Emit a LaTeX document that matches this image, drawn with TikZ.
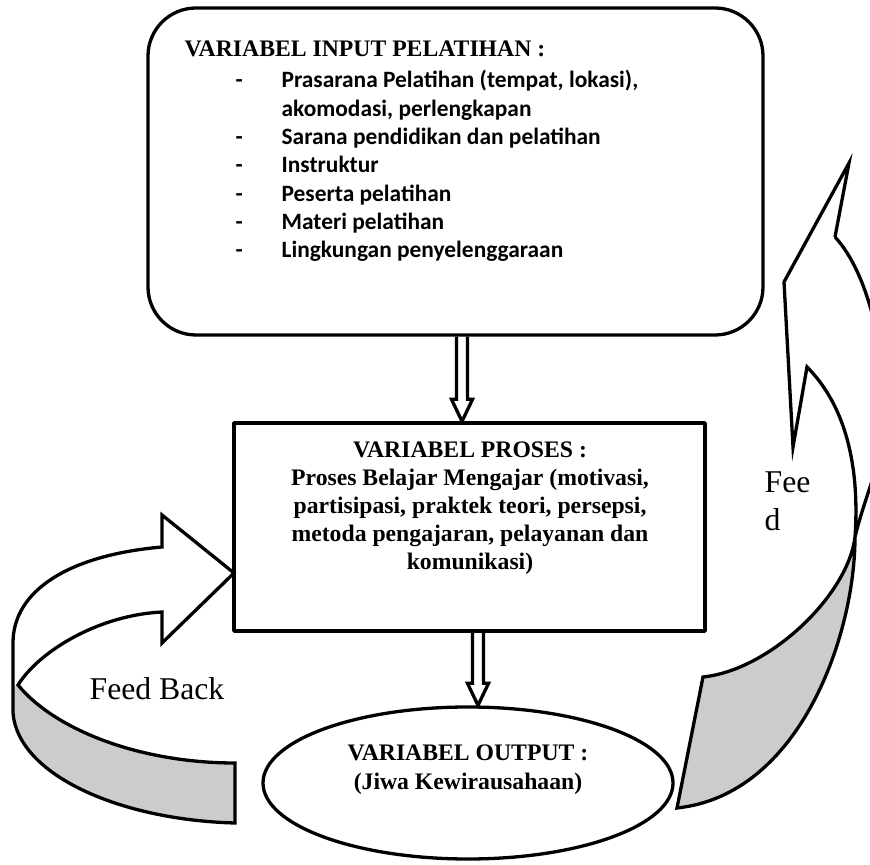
\documentclass[tikz,border=0pt]{standalone}
\usepackage{fontspec}
\setmainfont{Liberation Serif}
\newfontfamily\calibrifont{Carlito}
\usetikzlibrary{shapes.geometric,calc}
\definecolor{bandgray}{RGB}{204,204,204}

% hollow double-line arrow pointing down, from #1 to #2
\newcommand{\hollowdown}[2]{%
  \draw [line join=miter] ($(#1)+(-5.5bp,0)$) -- ($(#2)+(-5.5bp,22bp)$) -- ($(#2)+(-10.5bp,22bp)$) -- (#2)
    -- ($(#2)+(10.5bp,22bp)$) -- ($(#2)+(5.5bp,22bp)$) -- ($(#1)+(5.5bp,0)$);}

\begin{document}
\begin{tikzpicture}[line join=bevel,
  box/.style={draw, line width=3.3bp, inner sep=0pt},
  inputbox/.style={box, rounded corners=48bp, minimum width=615bp, minimum height=327bp},
  prosesbox/.style={box, minimum width=471bp, minimum height=208bp},
  outputshape/.style={box, ellipse, minimum width=410bp, minimum height=152bp},
  headtext/.style={font=\bfseries\fontsize{23.7bp}{28bp}\selectfont, inner sep=0pt, anchor=base},
  itemtext/.style={font=\calibrifont\bfseries\fontsize{23.4bp}{28bp}\selectfont, inner sep=0pt, anchor=base west},
  feedtext/.style={font=\fontsize{31.7bp}{37bp}\selectfont, inner sep=0pt, anchor=base west},
  ribbon/.style={line width=3.3bp, line join=miter}]
  \useasboundingbox (0bp,0bp) rectangle (870bp,865bp);
  \clip (0bp,0bp) rectangle (870bp,865bp);
  \pgfsetlinewidth{3.3bp}
%%
  % Node: input
  \node [inputbox] (input) at (455.5bp,693.5bp) {};
  \node [headtext, anchor=base west] (inputhead) at (183bp,808bp) {VARIABEL INPUT PELATIHAN :};
  \node [itemtext] (dash1) at (234bp,777bp) {-};
  \node [itemtext] (item1) at (280bp,777bp) {Prasarana Pelatihan (tempat, lokasi),};
  \node [itemtext] (item2) at (280bp,748.7bp) {akomodasi, perlengkapan};
  \node [itemtext] (dash3) at (234bp,720.4bp) {-};
  \node [itemtext] (item3) at (280bp,720.4bp) {Sarana pendidikan dan pelatihan};
  \node [itemtext] (dash4) at (234bp,692.1bp) {-};
  \node [itemtext] (item4) at (280bp,692.1bp) {Instruktur};
  \node [itemtext] (dash5) at (234bp,663.8bp) {-};
  \node [itemtext] (item5) at (280bp,663.8bp) {Peserta pelatihan};
  \node [itemtext] (dash6) at (234bp,635.5bp) {-};
  \node [itemtext] (item6) at (280bp,635.5bp) {Materi pelatihan};
  \node [itemtext] (dash7) at (234bp,607.2bp) {-};
  \node [itemtext] (item7) at (280bp,607.2bp) {Lingkungan penyelenggaraan};
  % Node: proses
  \node [prosesbox] (proses) at (469.5bp,338bp) {};
  \node [headtext] (proseshead) at (470bp,407bp) {VARIABEL PROSES :};
  \node [headtext] (proses1) at (470bp,379bp) {Proses Belajar Mengajar (motivasi,};
  \node [headtext] (proses2) at (470bp,351bp) {partisipasi, praktek teori, persepsi,};
  \node [headtext] (proses3) at (470bp,323bp) {metoda pengajaran, pelayanan dan};
  \node [headtext] (proses4) at (470bp,295bp) {komunikasi)};
  % Node: output
  \node [outputshape] (output) at (468bp,82bp) {};
  \node [headtext] (outputhead) at (468bp,104bp) {VARIABEL OUTPUT :};
  \node [headtext] (output1) at (468bp,75bp) {(Jiwa Kewirausahaan)};
  % Edge: input -> proses
  \coordinate (inputfoot) at ($(input.south)+(6.5bp,0)$);
  \coordinate (prosestop) at ($(proses.north)+(-7.5bp,0)$);
  \hollowdown{inputfoot}{prosestop}
  % Edge: proses -> output
  \coordinate (prosesfoot) at ($(proses.south)+(8.5bp,0)$);
  \coordinate (outputtop) at ($(output.north)+(10bp,0)$);
  \hollowdown{prosesfoot}{outputtop}
  % Edge: feed back (left)
  \fill [bandgray] (18bp,180bp) .. controls (55bp,135bp) and (140bp,102bp) .. (235bp,102bp) -- (235bp,42bp)
    .. controls (120bp,45bp) and (18bp,90bp) .. (13bp,152bp) -- (13bp,178bp) -- cycle;
  \draw [ribbon] (13bp,152bp) -- (13bp,222bp) .. controls (13bp,275bp) and (70bp,310bp) .. (162bp,318bp)
    -- (162bp,350bp) -- (234bp,292bp) -- (162bp,222bp) -- (162bp,253bp)
    .. controls (100bp,250bp) and (40bp,215bp) .. (18bp,180bp)
    .. controls (55bp,135bp) and (140bp,102bp) .. (235bp,102bp) -- (235bp,42bp)
    .. controls (120bp,45bp) and (18bp,90bp) .. (13bp,152bp);
  \node [feedtext] (feedback) at (88bp,165bp) {Feed Back};
  % Edge: feed back (right)
  \fill [bandgray] (855bp,328bp) .. controls (848bp,270bp) and (770bp,195bp) .. (703bp,188bp) -- (677bp,57bp)
    .. controls (800bp,70bp) and (855bp,230bp) .. (855bp,328bp) -- cycle;
  \draw [ribbon] (835bp,628bp) -- (849bp,702bp) -- (784bp,583bp) -- (793bp,418bp) -- (807bp,498bp)
    .. controls (845bp,460bp) and (860bp,400bp) .. (855bp,328bp)
    .. controls (848bp,270bp) and (770bp,195bp) .. (703bp,188bp) -- (677bp,57bp)
    .. controls (800bp,70bp) and (855bp,230bp) .. (855bp,328bp)
    .. controls (865bp,370bp) and (885bp,410bp) .. (885bp,450bp)
    .. controls (885bp,510bp) and (870bp,590bp) .. (835bp,628bp);
  \node [feedtext] (feedA) at (763bp,372bp) {Fee};
  \node [feedtext] (feedB) at (763bp,334bp) {d};
%
\end{tikzpicture}
\end{document}
